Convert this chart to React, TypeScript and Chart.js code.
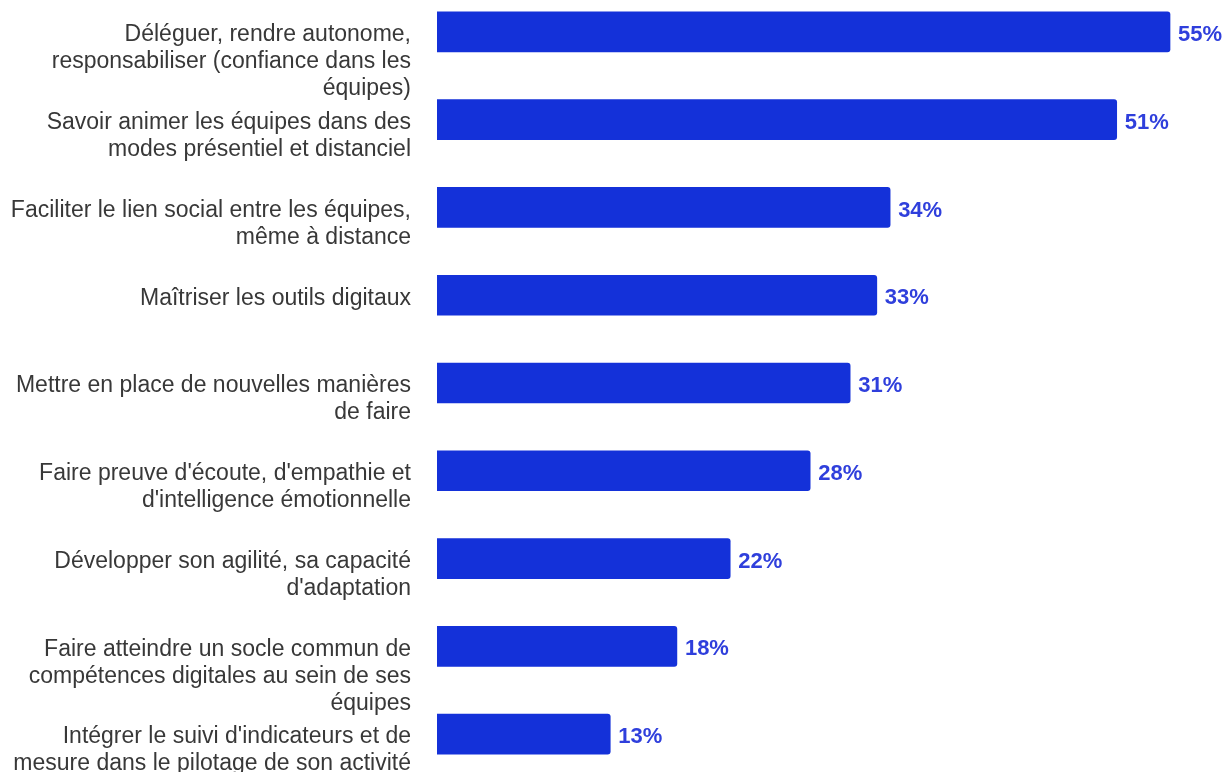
import React, { useEffect, useRef } from "react";
import { Chart, registerables } from "chart.js";

Chart.register(...registerables);

const categories: string[][] = [
  ["Déléguer, rendre autonome,", "responsabiliser (confiance dans les", "équipes)"],
  ["Savoir animer les équipes dans des", "modes présentiel et distanciel"],
  ["Faciliter le lien social entre les équipes,", "même à distance"],
  ["Maîtriser les outils digitaux"],
  ["Mettre en place de nouvelles manières", "de faire"],
  ["Faire preuve d'écoute, d'empathie et", "d'intelligence émotionnelle"],
  ["Développer son agilité, sa capacité", "d'adaptation"],
  ["Faire atteindre un socle commun de", "compétences digitales au sein de ses", "équipes"],
  ["Intégrer le suivi d'indicateurs et de", "mesure dans le pilotage de son activité"],
];

const values: number[] = [55, 51, 34, 33, 31, 28, 22, 18, 13];

const BAR_COLOR = "#1431d9";
const VALUE_COLOR = "#2f3fdc";
const LABEL_COLOR = "#383838";

const valueLabels = {
  id: "valueLabels",
  afterDatasetsDraw(chart: any) {
    const ctx = chart.ctx;
    const meta = chart.getDatasetMeta(0);
    ctx.save();
    ctx.font = "bold 22px 'Liberation Sans', Arial, sans-serif";
    ctx.fillStyle = VALUE_COLOR;
    ctx.textAlign = "left";
    ctx.textBaseline = "middle";
    meta.data.forEach((bar: any, i: number) => {
      ctx.fillText(values[i] + "%", bar.x + 8, bar.y + 3);
    });
    ctx.restore();
  },
};

export default function App() {
  const ref = useRef<HTMLCanvasElement | null>(null);

  useEffect(() => {
    if (!ref.current) return;
    const chart = new Chart(ref.current, {
      type: "bar",
      data: {
        labels: categories,
        datasets: [
          {
            data: values,
            backgroundColor: BAR_COLOR,
            borderRadius: { topLeft: 0, bottomLeft: 0, topRight: 3, bottomRight: 3 },
            borderSkipped: false,
            barThickness: 40,
          },
        ],
      },
      options: {
        indexAxis: "y",
        responsive: false,
        animation: false,
        layout: { padding: { left: 0, right: 13, top: 0, bottom: 0 } },
        plugins: {
          legend: { display: false },
          tooltip: { enabled: false },
        },
        scales: {
          x: {
            display: false,
            min: 0,
            max: 58,
          },
          y: {
            grid: { display: false, drawTicks: false },
            border: { display: false },
            afterFit(scale: any) {
              scale.width = 437;
              scale.paddingTop = 0;
              scale.paddingBottom = 0;
            },
            ticks: {
              autoSkip: false,
              padding: 26,
              labelOffset: 3,
              color: LABEL_COLOR,
              font: { family: "'Liberation Sans', Arial, sans-serif", size: 23, lineHeight: "27px" },
              callback(this: any, _v: any, index: number) {
                const lines = categories[index];
                const pad: string[] = [];
                for (let k = 1; k < lines.length; k++) pad.push("");
                return [...pad, ...lines];
              },
            },
          },
        },
      },
      plugins: [valueLabels],
    });
    return () => chart.destroy();
  }, []);

  return (
    <div
      style={{
        position: "fixed",
        left: 0,
        top: 0,
        width: 1223,
        height: 772,
        overflow: "hidden",
        background: "#ffffff",
      }}
    >
      <canvas
        ref={ref}
        width={1223}
        height={790}
        style={{ position: "absolute", left: 0, top: -12, width: 1223, height: 790 }}
      />
    </div>
  );
}
